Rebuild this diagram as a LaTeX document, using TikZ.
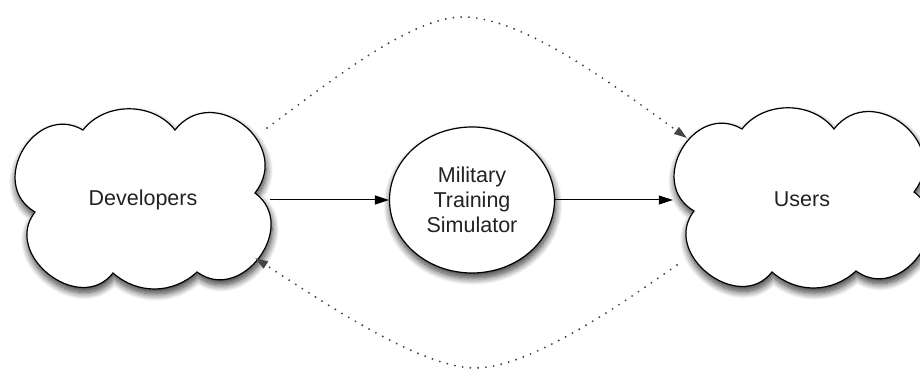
\documentclass[tikz,border=0pt]{standalone}
\usepackage{fontspec}
\setmainfont{Liberation Sans}
\usetikzlibrary{shapes.geometric,arrows.meta,shadows.blur,calc}
\definecolor{txt}{HTML}{222222}
\definecolor{dots}{HTML}{444444}
\tikzset{
  softshadow/.style={blur shadow={shadow xshift=1pt, shadow yshift=-5pt, shadow blur radius=7pt, shadow blur steps=12, shadow opacity=80}},
  cloudline/.style={draw=black, line width=1.2pt, fill=white, line join=miter, softshadow},
  cloudpic/.pic={
    \path[cloudline] (-60,-70) to[bend left=52] (32,-70)
      to[bend left=90, looseness=1.55] (112,-7)
      to[bend left=90, looseness=1.45] (54,72)
      to[bend left=42] (-30,73)
      to[bend left=90, looseness=1.4] (-108,12)
      to[bend left=90, looseness=1.5] (-60,-70) -- cycle;
  },
  cloudlabel/.style={ellipse, minimum width=260pt, minimum height=172pt, inner sep=0pt,
    text=txt, font=\fontsize{21.5}{25}\selectfont},
  simbox/.style={ellipse, minimum width=165pt, minimum height=146pt, draw=black, line width=1.2pt, fill=white,
    text=txt, align=center, font=\fontsize{21.5}{25}\selectfont, inner sep=0pt, softshadow},
  solidarrow/.style={-{Triangle[length=14pt,width=9pt]}, line width=1pt, black},
  dotarrow/.style={-{Triangle[length=13pt,width=8pt]}, line width=2.1pt, dots, line cap=round,
    dash pattern=on 0pt off 7.8pt}
}
\begin{document}
\begin{tikzpicture}[x=1pt,y=-1pt]
\useasboundingbox (0,0) rectangle (920,371);
\pic at (143,200) {cloudpic};
\pic at (802,199) {cloudpic};
\node[cloudlabel] (dev) at (143,200) {Developers};
\node[cloudlabel] (usr) at (802,199) {Users};
\node[simbox] (sim) at (472,200) {Military\\Training\\Simulator};
\draw[solidarrow] ($(dev.east |- sim.west)+(-3,0)$) -- (sim.west);
\draw[solidarrow] (sim.east) -- ($(usr.west |- sim.east)+(1,0)$);
\draw[dotarrow] ($(dev.center)+(124,-72)$) .. controls (330,82) and (410,17) .. (463,17)
  .. controls (525,17) and (620,90) .. ($(usr.center)+(-115,-61)$);
\draw[dotarrow] ($(usr.center)+(-125,66)$) .. controls (620,305) and (530,368) .. (475,368)
  .. controls (420,368) and (320,300) .. ($(dev.center)+(112,58)$);
\end{tikzpicture}
\end{document}
